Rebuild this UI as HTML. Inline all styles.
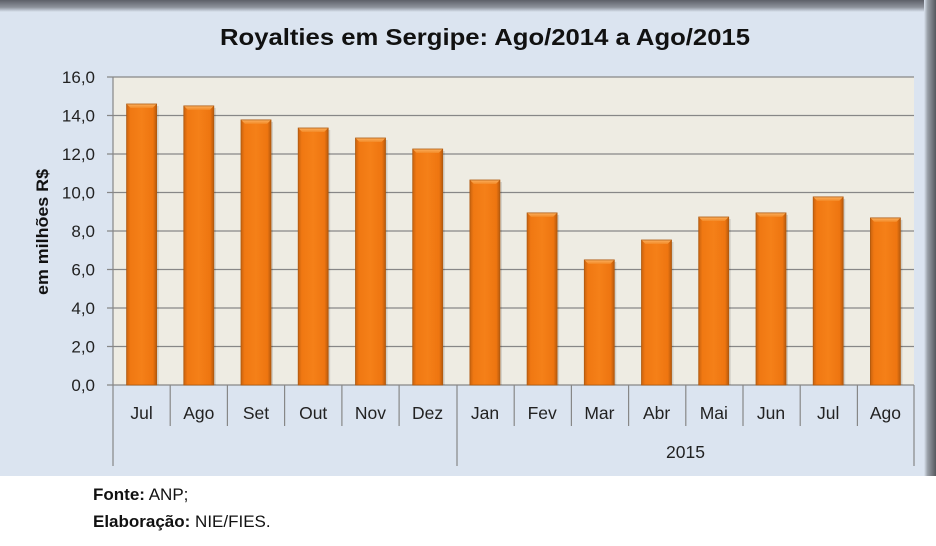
<!DOCTYPE html>
<html><head><meta charset="utf-8"><style>
html,body{margin:0;padding:0;background:#fff;}
svg{display:block;}
text{font-family:"Liberation Sans",sans-serif;}
</style></head><body>
<svg width="936" height="546" viewBox="0 0 936 546" xmlns="http://www.w3.org/2000/svg">
<defs>
<linearGradient id="topg" x1="0" y1="0" x2="0" y2="1">
<stop offset="0" stop-color="#5d6068"/><stop offset="0.6" stop-color="#8d929b"/><stop offset="1" stop-color="#dbe4f0"/>
</linearGradient>
<linearGradient id="rg" x1="0" y1="0" x2="1" y2="0">
<stop offset="0" stop-color="#dbe4f0"/><stop offset="0.3" stop-color="#9aa0a8"/><stop offset="1" stop-color="#55585e"/>
</linearGradient>
<linearGradient id="bar" x1="0" y1="0" x2="1" y2="0">
<stop offset="0" stop-color="#c9620e"/><stop offset="0.12" stop-color="#f07812"/><stop offset="0.5" stop-color="#f58018"/><stop offset="0.88" stop-color="#ee7510"/><stop offset="1" stop-color="#b85a0c"/>
</linearGradient>
<linearGradient id="bev" x1="0" y1="0" x2="0" y2="1">
<stop offset="0" stop-color="#fbb060"/><stop offset="1" stop-color="#f38a26"/>
</linearGradient>
</defs>
<rect x="0" y="0" width="936" height="476" fill="#dbe4f0"/>
<rect x="0" y="0" width="936" height="12" fill="url(#topg)"/>
<rect x="924" y="0" width="12" height="476" fill="url(#rg)"/>
<!-- plot area -->
<rect x="113" y="77" width="801" height="308" fill="#eeece3"/>
<g stroke="#878787" stroke-width="1.2">
<line x1="107" y1="77" x2="914" y2="77"/>
<line x1="107" y1="115.5" x2="914" y2="115.5"/>
<line x1="107" y1="154" x2="914" y2="154"/>
<line x1="107" y1="192.5" x2="914" y2="192.5"/>
<line x1="107" y1="231" x2="914" y2="231"/>
<line x1="107" y1="269.5" x2="914" y2="269.5"/>
<line x1="107" y1="308" x2="914" y2="308"/>
<line x1="107" y1="346.5" x2="914" y2="346.5"/>
<line x1="107" y1="385" x2="914" y2="385"/>
<line x1="113" y1="77" x2="113" y2="385"/>
</g>
<g font-size="17" fill="#222" text-anchor="end">
<text x="95" y="83">16,0</text>
<text x="95" y="121.5">14,0</text>
<text x="95" y="160">12,0</text>
<text x="95" y="198.5">10,0</text>
<text x="95" y="237">8,0</text>
<text x="95" y="275.5">6,0</text>
<text x="95" y="314">4,0</text>
<text x="95" y="352.5">2,0</text>
<text x="95" y="391">0,0</text>
</g>
<text x="0" y="0" font-size="17" font-weight="bold" fill="#111" text-anchor="middle" transform="translate(48,232) rotate(-90)" textLength="126" lengthAdjust="spacingAndGlyphs">em milhões R$</text>
<text x="485" y="45" font-size="23" font-weight="bold" fill="#111" text-anchor="middle" textLength="530" lengthAdjust="spacingAndGlyphs">Royalties em Sergipe: Ago/2014 a Ago/2015</text>
<!-- bars -->
<g>
<g transform="translate(126.6,104)"><rect x="2" y="2" width="30" height="279" fill="#000" opacity="0.12"/><rect width="30" height="281" fill="url(#bar)"/><polygon points="0,0 30,0 26,4 4,4" fill="url(#bev)"/><rect width="30" height="281" fill="none" stroke="#b05a10" stroke-width="0.8"/></g>
<g transform="translate(183.8,105.9)"><rect x="2" y="2" width="30" height="277.1" fill="#000" opacity="0.12"/><rect width="30" height="279.1" fill="url(#bar)"/><polygon points="0,0 30,0 26,4 4,4" fill="url(#bev)"/><rect width="30" height="279.1" fill="none" stroke="#b05a10" stroke-width="0.8"/></g>
<g transform="translate(241,119.9)"><rect x="2" y="2" width="30" height="263.1" fill="#000" opacity="0.12"/><rect width="30" height="265.1" fill="url(#bar)"/><polygon points="0,0 30,0 26,4 4,4" fill="url(#bev)"/><rect width="30" height="265.1" fill="none" stroke="#b05a10" stroke-width="0.8"/></g>
<g transform="translate(298.2,128)"><rect x="2" y="2" width="30" height="255" fill="#000" opacity="0.12"/><rect width="30" height="257" fill="url(#bar)"/><polygon points="0,0 30,0 26,4 4,4" fill="url(#bev)"/><rect width="30" height="257" fill="none" stroke="#b05a10" stroke-width="0.8"/></g>
<g transform="translate(355.5,138)"><rect x="2" y="2" width="30" height="245" fill="#000" opacity="0.12"/><rect width="30" height="247" fill="url(#bar)"/><polygon points="0,0 30,0 26,4 4,4" fill="url(#bev)"/><rect width="30" height="247" fill="none" stroke="#b05a10" stroke-width="0.8"/></g>
<g transform="translate(412.7,149)"><rect x="2" y="2" width="30" height="234" fill="#000" opacity="0.12"/><rect width="30" height="236" fill="url(#bar)"/><polygon points="0,0 30,0 26,4 4,4" fill="url(#bev)"/><rect width="30" height="236" fill="none" stroke="#b05a10" stroke-width="0.8"/></g>
<g transform="translate(469.9,180)"><rect x="2" y="2" width="30" height="203" fill="#000" opacity="0.12"/><rect width="30" height="205" fill="url(#bar)"/><polygon points="0,0 30,0 26,4 4,4" fill="url(#bev)"/><rect width="30" height="205" fill="none" stroke="#b05a10" stroke-width="0.8"/></g>
<g transform="translate(527.1,212.9)"><rect x="2" y="2" width="30" height="170.1" fill="#000" opacity="0.12"/><rect width="30" height="172.1" fill="url(#bar)"/><polygon points="0,0 30,0 26,4 4,4" fill="url(#bev)"/><rect width="30" height="172.1" fill="none" stroke="#b05a10" stroke-width="0.8"/></g>
<g transform="translate(584.3,259.9)"><rect x="2" y="2" width="30" height="123.1" fill="#000" opacity="0.12"/><rect width="30" height="125.1" fill="url(#bar)"/><polygon points="0,0 30,0 26,4 4,4" fill="url(#bev)"/><rect width="30" height="125.1" fill="none" stroke="#b05a10" stroke-width="0.8"/></g>
<g transform="translate(641.5,240)"><rect x="2" y="2" width="30" height="143" fill="#000" opacity="0.12"/><rect width="30" height="145" fill="url(#bar)"/><polygon points="0,0 30,0 26,4 4,4" fill="url(#bev)"/><rect width="30" height="145" fill="none" stroke="#b05a10" stroke-width="0.8"/></g>
<g transform="translate(698.7,217)"><rect x="2" y="2" width="30" height="166" fill="#000" opacity="0.12"/><rect width="30" height="168" fill="url(#bar)"/><polygon points="0,0 30,0 26,4 4,4" fill="url(#bev)"/><rect width="30" height="168" fill="none" stroke="#b05a10" stroke-width="0.8"/></g>
<g transform="translate(756,212.9)"><rect x="2" y="2" width="30" height="170.1" fill="#000" opacity="0.12"/><rect width="30" height="172.1" fill="url(#bar)"/><polygon points="0,0 30,0 26,4 4,4" fill="url(#bev)"/><rect width="30" height="172.1" fill="none" stroke="#b05a10" stroke-width="0.8"/></g>
<g transform="translate(813.2,196.9)"><rect x="2" y="2" width="30" height="186.1" fill="#000" opacity="0.12"/><rect width="30" height="188.1" fill="url(#bar)"/><polygon points="0,0 30,0 26,4 4,4" fill="url(#bev)"/><rect width="30" height="188.1" fill="none" stroke="#b05a10" stroke-width="0.8"/></g>
<g transform="translate(870.4,217.9)"><rect x="2" y="2" width="30" height="165.1" fill="#000" opacity="0.12"/><rect width="30" height="167.1" fill="url(#bar)"/><polygon points="0,0 30,0 26,4 4,4" fill="url(#bev)"/><rect width="30" height="167.1" fill="none" stroke="#b05a10" stroke-width="0.8"/></g>
</g>
<!-- category axis lines -->
<g stroke="#878787" stroke-width="1.2">
<line x1="113" y1="385" x2="113" y2="466"/>
<line x1="457" y1="385" x2="457" y2="466"/>
<line x1="914" y1="385" x2="914" y2="466"/>
<line x1="170.2" y1="385" x2="170.2" y2="426"/>
<line x1="227.4" y1="385" x2="227.4" y2="426"/>
<line x1="284.6" y1="385" x2="284.6" y2="426"/>
<line x1="341.9" y1="385" x2="341.9" y2="426"/>
<line x1="399.1" y1="385" x2="399.1" y2="426"/>
<line x1="514.2" y1="385" x2="514.2" y2="426"/>
<line x1="571.4" y1="385" x2="571.4" y2="426"/>
<line x1="628.6" y1="385" x2="628.6" y2="426"/>
<line x1="685.8" y1="385" x2="685.8" y2="426"/>
<line x1="743" y1="385" x2="743" y2="426"/>
<line x1="800.2" y1="385" x2="800.2" y2="426"/>
<line x1="857.4" y1="385" x2="857.4" y2="426"/>
</g>
<g font-size="17.5" fill="#222" text-anchor="middle">
<text x="141.6" y="419">Jul</text>
<text x="198.8" y="419">Ago</text>
<text x="256" y="419">Set</text>
<text x="313.2" y="419">Out</text>
<text x="370.4" y="419">Nov</text>
<text x="427.6" y="419">Dez</text>
<text x="485" y="419">Jan</text>
<text x="542.2" y="419">Fev</text>
<text x="599.4" y="419">Mar</text>
<text x="656.6" y="419">Abr</text>
<text x="713.8" y="419">Mai</text>
<text x="771" y="419">Jun</text>
<text x="828.2" y="419">Jul</text>
<text x="885.4" y="419">Ago</text>
<text x="685.5" y="458">2015</text>
</g>
<g font-size="17" fill="#111">
<text x="93" y="500"><tspan font-weight="bold">Fonte:</tspan> ANP;</text>
<text x="93" y="527"><tspan font-weight="bold">Elaboração:</tspan>  NIE/FIES.</text>
</g>
</svg>
</body></html>
